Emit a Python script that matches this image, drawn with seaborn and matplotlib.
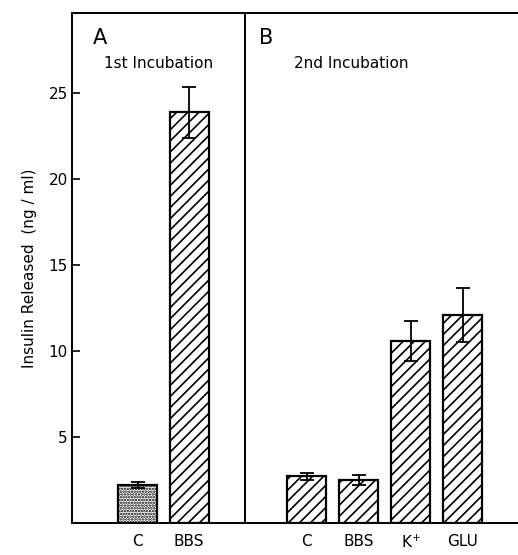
import matplotlib
matplotlib.use("Agg")
import matplotlib.pyplot as plt
import seaborn as sns
import numpy as np

# Data
panel_a_labels = ["C", "BBS"]
panel_a_means = [2.2, 23.9]
panel_a_err = [0.2, 1.5]
panel_a_hatches = ["......", "///"]

panel_b_labels = ["C", "BBS", "K$^{+}$", "GLU"]
panel_b_means = [2.7, 2.5, 10.6, 12.1]
panel_b_err = [0.2, 0.3, 1.15, 1.6]
panel_b_hatches = ["///", "///", "///", "///"]

y_ticks = [5, 10, 15, 20, 25]

sns.set_style("ticks")
plt.rcParams["font.family"] = ["DejaVu Sans"]
plt.rcParams["hatch.linewidth"] = 1.2
plt.rcParams["text.color"] = "black"
plt.rcParams["axes.labelcolor"] = "black"
plt.rcParams["xtick.color"] = "black"
plt.rcParams["ytick.color"] = "black"

fig = plt.figure(figsize=(5.18, 5.55), dpi=100)
gs = fig.add_gridspec(1, 2, width_ratios=[173, 273], wspace=0,
                      left=0.139, right=1.0, bottom=0.058, top=0.977)
axA = fig.add_subplot(gs[0, 0])
axB = fig.add_subplot(gs[0, 1], sharey=axA)


def draw(ax, labels, means, errs, hatches):
    sns.barplot(x=labels, y=means, ax=ax, color="white", edgecolor="black",
                linewidth=1.6, width=0.75, errorbar=None, saturation=1)
    for p, h in zip(ax.patches, hatches):
        p.set_hatch(h)
        p.set_facecolor("white")
        p.set_edgecolor("black")
    ax.errorbar(np.arange(len(labels)), means, yerr=errs, fmt="none",
                ecolor="black", elinewidth=1.3, capsize=5, capthick=1.3)
    ax.tick_params(axis="x", length=0, pad=8, labelsize=11)
    for s in ax.spines.values():
        s.set_linewidth(1.4)
        s.set_color("black")


draw(axA, panel_a_labels, panel_a_means, panel_a_err, panel_a_hatches)
draw(axB, panel_b_labels, panel_b_means, panel_b_err, panel_b_hatches)

axA.set_xlim(-1.27, 2.08)
axB.set_xlim(-1.19, 4.06)
axA.set_ylim(0, 29.7)
axA.set_yticks(y_ticks)
axA.tick_params(axis="y", direction="in", length=6, width=1.2, pad=3, labelsize=11)
axA.set_ylabel("Insulin Released  (ng / ml)", fontsize=11, labelpad=8)
axA.spines["right"].set_visible(False)
axB.spines["right"].set_visible(False)
axB.tick_params(axis="y", left=False, labelleft=False)
axB.set_ylabel("")

axA.text(0.12, 0.97, "A", transform=axA.transAxes, fontsize=15, ha="left", va="top")
axA.text(0.50, 0.915, "1st Incubation", transform=axA.transAxes, fontsize=11,
         ha="center", va="top")
axB.text(0.05, 0.97, "B", transform=axB.transAxes, fontsize=15, ha="left", va="top")
axB.text(0.39, 0.915, "2nd Incubation", transform=axB.transAxes, fontsize=11,
         ha="center", va="top")

fig.savefig("out.png", dpi=100)
